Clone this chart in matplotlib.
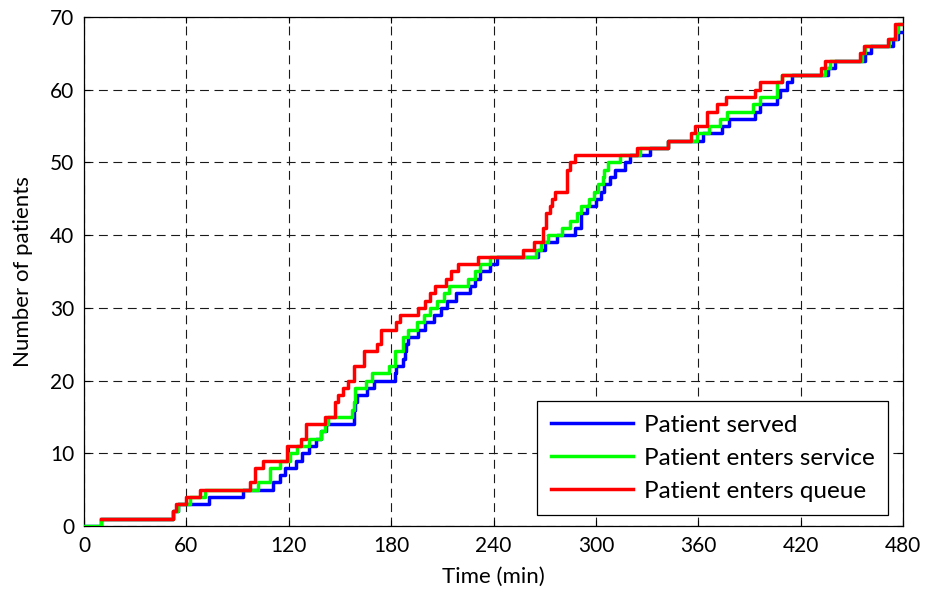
import matplotlib
matplotlib.use("Agg")
import matplotlib.pyplot as plt

plt.rcParams['font.family'] = ['Lato', 'DejaVu Sans']

# cumulative counts: time (min) at which each count is reached
served_t = [0, 10, 52, 55, 73, 93, 111, 115, 118, 124, 128, 132, 136, 139, 142, 158, 159, 160, 166, 170,
            182, 183, 187, 188, 189, 190, 196, 200, 205, 209, 213, 218, 226, 229, 232, 238, 242, 266, 270, 277,
            288, 291, 295, 300, 303, 305, 308, 311, 317, 320, 332, 342, 363, 374, 378, 393, 396, 406, 408, 412,
            415, 436, 440, 458, 461, 474, 477, 480]
served_n = [0, 1, 2, 3, 4, 5, 6, 7, 8, 9, 10, 11, 12, 13, 14, 16, 17, 18, 19, 20,
            21, 22, 23, 24, 25, 26, 27, 28, 29, 30, 31, 32, 33, 34, 35, 36, 37, 38, 39, 40,
            41, 43, 44, 45, 46, 47, 48, 49, 50, 51, 52, 53, 54, 55, 56, 57, 58, 59, 60, 61,
            62, 63, 64, 65, 66, 67, 68, 68]

service_t = [0, 10, 52, 55, 62, 71, 102, 109, 115, 121, 125, 132, 139, 141, 143, 157, 158, 159, 165, 169,
             179, 182, 187, 190, 195, 199, 203, 207, 211, 214, 225, 229, 232, 238, 265, 268, 272, 280, 285, 289,
             291, 296, 299, 301, 304, 305, 307, 314, 326, 342, 359, 366, 373, 377, 392, 396, 406, 409, 434, 437,
             456, 458, 472, 476, 477, 480]
service_n = [0, 1, 2, 3, 4, 5, 6, 8, 9, 10, 11, 12, 13, 14, 15, 16, 17, 19, 20, 21,
             22, 24, 26, 27, 28, 29, 30, 31, 32, 33, 34, 35, 36, 37, 38, 39, 40, 41, 42, 43,
             44, 45, 46, 47, 48, 49, 50, 51, 52, 53, 54, 55, 56, 57, 58, 59, 61, 62, 63, 64,
             65, 66, 67, 68, 69, 69]

queue_t = [10, 52, 54, 60, 68, 97, 100, 105, 119, 127, 130, 141, 147, 149, 152, 155, 158, 164, 172, 174,
           183, 185, 196, 200, 203, 206, 212, 215, 219, 231, 257, 264, 269, 271, 273, 274, 276, 283, 285, 288,
           324, 342, 356, 358, 365, 371, 376, 393, 396, 409, 432, 434, 455, 457, 471, 475, 480]
queue_n = [1, 2, 3, 4, 5, 6, 8, 9, 11, 12, 14, 15, 17, 18, 19, 20, 22, 24, 25, 27,
           28, 29, 30, 31, 32, 33, 34, 35, 36, 37, 38, 39, 41, 43, 44, 45, 46, 49, 50, 51,
           52, 53, 54, 55, 57, 58, 59, 60, 61, 62, 63, 64, 65, 66, 67, 69, 69]

x_ticks = list(range(0, 481, 60))
y_ticks = list(range(0, 71, 10))

fig = plt.figure(figsize=(9.26, 5.97), dpi=100)
ax = fig.add_axes([0.0907, 0.119, 0.8845, 0.8525])

lw = 2.5
ax.step(served_t, served_n, where='post', color='#0000ff', lw=lw, label='Patient served', zorder=3)
ax.step(service_t, service_n, where='post', color='#00ff00', lw=lw, label='Patient enters service', zorder=4)
ax.step(queue_t, queue_n, where='post', color='#ff0000', lw=lw, label='Patient enters queue', zorder=5)

ax.set_xlim(0, 480)
ax.set_ylim(0, 70)
ax.set_xticks(x_ticks)
ax.set_yticks(y_ticks)
ax.tick_params(direction='in', length=4, width=0.8, top=True, right=True, labelsize=15, pad=7)
ax.grid(True, color='#1a1a1a', linestyle=(0, (8, 5)), lw=0.8)
for s in ax.spines.values():
    s.set_linewidth(0.9)

ax.set_xlabel('Time (min)', fontsize=16, labelpad=8)
ax.set_ylabel('Number of patients', fontsize=16, labelpad=12)

leg = ax.legend(loc='lower right', bbox_to_anchor=(0.982, 0.021), fontsize=17.5, handlelength=3.4,
                handletextpad=0.45, labelspacing=0.5, borderpad=0.55, fancybox=False,
                framealpha=1, edgecolor='black', borderaxespad=0)
leg.get_frame().set_linewidth(0.9)

fig.savefig('out.png', dpi=100)
